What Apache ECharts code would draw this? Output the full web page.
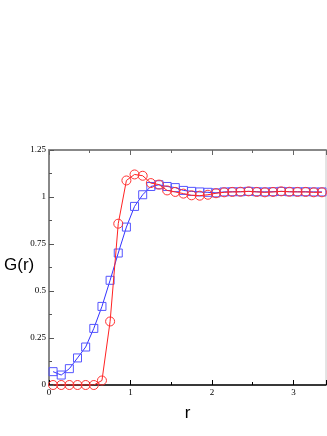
<!DOCTYPE html>
<html><head><meta charset="utf-8">
<script src="https://cdn.jsdelivr.net/npm/echarts@6/dist/echarts.min.js"></script>
<style>html,body{margin:0;padding:0;background:#fff}#c{width:327px;height:436px}</style>
</head><body><div id="c"></div>
<script>
const rValues = [0.05,0.15,0.25,0.35,0.45,0.55,0.65,0.75,0.85,0.95,1.05,1.15,1.25,1.35,1.45,1.55,1.65,1.75,1.85,1.95,2.05,2.15,2.25,2.35,2.45,2.55,2.65,2.75,2.85,2.95,3.05,3.15,3.25,3.35];
const redG = [0,0,0,0,0,0,0.024,0.338,0.858,1.088,1.12,1.113,1.074,1.066,1.035,1.027,1.018,1.009,1.007,1.012,1.02,1.025,1.027,1.028,1.03,1.027,1.025,1.027,1.03,1.028,1.027,1.027,1.025,1.025];
const blueG = [0.071,0.053,0.087,0.144,0.202,0.301,0.418,0.557,0.702,0.84,0.95,1.012,1.056,1.065,1.056,1.05,1.035,1.03,1.027,1.025,1.022,1.027,1.028,1.028,1.03,1.028,1.027,1.028,1.03,1.028,1.028,1.028,1.027,1.027];
const xTicks = [0,1,2,3];
const yTicks = [0,0.25,0.5,0.75,1,1.25];

const pair = (ys) => rValues.map((x,i)=>[x, ys[i]]);
const chart = echarts.init(document.getElementById('c'), null, {renderer:'canvas'});
const labelFont = {fontFamily:'Liberation Serif', fontSize:9, color:'#000'};
chart.setOption({
  animation:false,
  backgroundColor:'#fff',
  grid:{left:49, top:150, right:1, bottom:51, containLabel:false, outerBoundsMode:'none',
        show:true, borderColor:'#c8c8c8', borderWidth:1},
  graphic:[{
    type:'text', left:4, top:257,
    style:{text:'G(r)', font:'17px "Liberation Sans"', fill:'#000'}
  }],
  xAxis:[{
    type:'value', min:0, max:3.4, interval:1, position:'bottom',
    axisLine:{show:true, onZero:false, lineStyle:{color:'#000', width:1.5}},
    axisTick:{show:true, inside:true, length:5, lineStyle:{color:'#000'}},
    minorTick:{show:true, splitNumber:2, length:3, lineStyle:{color:'#000'}},
    splitLine:{show:false},
    axisLabel:Object.assign({margin:3, formatter:(v)=>xTicks.includes(v)?String(v):''}, labelFont),
    name:'r', nameLocation:'middle', nameGap:20,
    nameTextStyle:{fontFamily:'Liberation Sans', fontSize:17, color:'#000'}
  },{
    type:'value', min:0, max:3.4, interval:1, position:'top',
    axisLine:{show:true, onZero:false, lineStyle:{color:'#888', width:2}},
    axisTick:{show:true, inside:true, length:5, lineStyle:{color:'#666'}},
    minorTick:{show:true, splitNumber:2, length:3, lineStyle:{color:'#666'}},
    splitLine:{show:false}, axisLabel:{show:false}
  }],
  yAxis:[{
    type:'value', min:0, max:1.25, interval:0.25,
    axisLine:{show:true, onZero:false, lineStyle:{color:'#888', width:2}},
    axisTick:{show:true, inside:true, length:5, lineStyle:{color:'#555'}},
    minorTick:{show:true, splitNumber:2, length:3, lineStyle:{color:'#555'}},
    splitLine:{show:false},
    axisLabel:Object.assign({margin:3, formatter:(v)=>yTicks.includes(v)?String(v):''}, labelFont)
  }],
  series:[{
    type:'line', data:pair(blueG), symbol:'rect', symbolSize:8,
    lineStyle:{color:'#3333ff', width:1},
    itemStyle:{color:'rgba(0,0,0,0)', borderColor:'#5555ff', borderWidth:1},
    z:2
  },{
    type:'line', data:pair(redG), symbol:'circle', symbolSize:9,
    lineStyle:{color:'#ff2222', width:1},
    itemStyle:{color:'rgba(0,0,0,0)', borderColor:'#ff3333', borderWidth:1},
    z:3
  }]
});
</script></body></html>
